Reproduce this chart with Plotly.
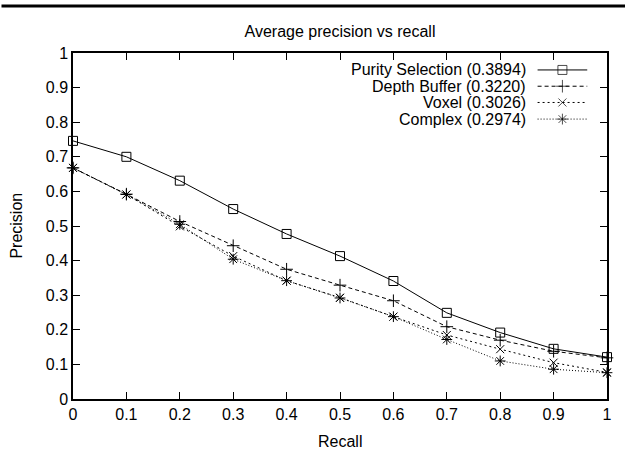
import plotly.graph_objects as go

recall = [0.0, 0.1, 0.2, 0.3, 0.4, 0.5, 0.6, 0.7, 0.8, 0.9, 1.0]
purity = [0.746, 0.700, 0.631, 0.549, 0.477, 0.413, 0.341, 0.249, 0.192, 0.145, 0.121]
depth = [0.668, 0.592, 0.513, 0.443, 0.375, 0.329, 0.284, 0.209, 0.170, 0.138, 0.119]
voxel = [0.668, 0.591, 0.499, 0.413, 0.342, 0.293, 0.238, 0.185, 0.144, 0.105, 0.077]
complex_ = [0.668, 0.591, 0.505, 0.404, 0.342, 0.292, 0.238, 0.172, 0.110, 0.086, 0.076]

names = ["Purity Selection (0.3894)", "Depth Buffer (0.3220)", "Voxel (0.3026)", "Complex (0.2974)"]
series = [purity, depth, voxel, complex_]
x_ticks = [0, 0.1, 0.2, 0.3, 0.4, 0.5, 0.6, 0.7, 0.8, 0.9, 1]
y_ticks = [0, 0.1, 0.2, 0.3, 0.4, 0.5, 0.6, 0.7, 0.8, 0.9, 1]

styles = [
    dict(dash="solid", symbol="square-open", size=9),
    dict(dash="4px,3px", symbol="cross-thin-open", size=9),
    dict(dash="2px,3px", symbol="x-thin-open", size=8),
    dict(dash="1px,2px", symbol="asterisk-open", size=9),
]

FONT = "Liberation Sans, Arial, Helvetica, sans-serif"
fig = go.Figure()

for name, vals, st in zip(names, series, styles):
    fig.add_trace(go.Scatter(
        x=recall, y=vals, mode="lines+markers", name=name, showlegend=False,
        line=dict(color="black", width=1, dash=st["dash"]),
        marker=dict(symbol=st["symbol"], size=st["size"], color="black",
                    line=dict(color="black", width=1)),
        cliponaxis=False,
    ))

# manual gnuplot-style legend (text left, sample right)
leg_text_x = 0.852
leg_x0, leg_xm, leg_x1 = 0.8700, 0.9165, 0.9630
leg_rows = [0.951, 0.904, 0.857, 0.809]
for name, st, yr in zip(names, styles, leg_rows):
    fig.add_trace(go.Scatter(
        x=[leg_x0, leg_xm, leg_x1], y=[yr, yr, yr], mode="lines+markers",
        xaxis="x2", yaxis="y2", showlegend=False, hoverinfo="skip",
        line=dict(color="black", width=1, dash=st["dash"]),
        marker=dict(symbol=st["symbol"], size=[0, st["size"], 0], color="black",
                    line=dict(color="black", width=1)),
        cliponaxis=False,
    ))
    fig.add_annotation(x=leg_text_x, y=yr, xref="paper", yref="paper", text=name,
                       showarrow=False, xanchor="right", yanchor="middle",
                       font=dict(size=16, color="black", family=FONT))

axis_common = dict(showline=True, linecolor="black", linewidth=1.5, mirror="allticks",
                   ticks="inside", ticklen=7, tickwidth=1, tickcolor="black",
                   showgrid=False, zeroline=False,
                   tickfont=dict(size=16, color="black", family=FONT))

fig.update_layout(
    width=626, height=449,
    margin=dict(l=73, r=19, t=53, b=50),
    paper_bgcolor="white", plot_bgcolor="white",
    title=dict(text="Average precision vs recall", x=0.5, xref="paper", xanchor="center",
               y=1 - 31 / 449, yref="container", yanchor="middle",
               font=dict(size=16, color="black", family=FONT)),
    xaxis=dict(range=[0, 1], tickvals=x_ticks, ticktext=[f"{v:g}" for v in x_ticks], **axis_common),
    yaxis=dict(range=[0, 1], tickvals=y_ticks, ticktext=[f"{v:g}" for v in y_ticks], **axis_common),
    xaxis2=dict(range=[0, 1], overlaying="x", visible=False, fixedrange=True),
    yaxis2=dict(range=[0, 1], overlaying="y", visible=False, fixedrange=True),
    showlegend=False,
)

fig.add_annotation(x=0.5, y=-0.122, xref="paper", yref="paper", text="Recall", showarrow=False,
                   xanchor="center", yanchor="middle", font=dict(size=16, color="black", family=FONT))
fig.add_annotation(x=-0.1075, y=0.5, xref="paper", yref="paper", text="Precision", showarrow=False,
                   textangle=-90, xanchor="center", yanchor="middle",
                   font=dict(size=16, color="black", family=FONT))

# rule across the top of the figure (drawn as an arrowless annotation line)
fig.add_annotation(x=1.1, y=1.136, xref="paper", yref="paper", ax=-720, ay=0,
                   text="", showarrow=True, arrowhead=0,
                   arrowwidth=3, arrowcolor="black", standoff=0, startstandoff=0)

fig.write_html("out.html", config={"displayModeBar": False},
               post_script="document.body.style.margin='0px';document.body.style.overflow='hidden';")
